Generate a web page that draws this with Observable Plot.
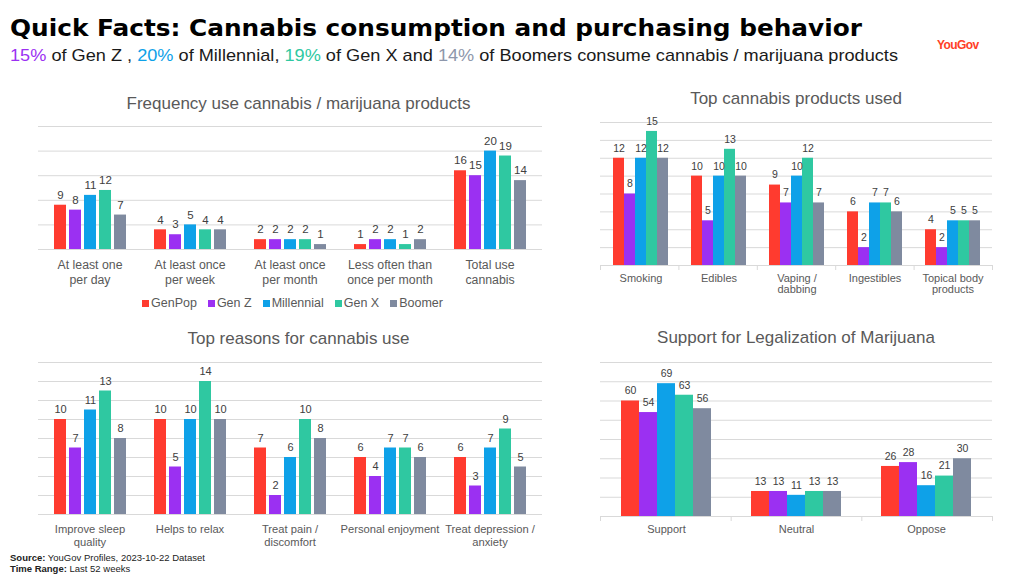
<!DOCTYPE html>
<html>
<head>
<meta charset="utf-8">
<script src="https://cdn.jsdelivr.net/npm/d3@7"></script>
<script src="https://cdn.jsdelivr.net/npm/@observablehq/plot@0.6"></script>
<style>
  html, body { margin: 0; padding: 0; background: #fff; }
  body { width: 1024px; height: 576px; position: relative; overflow: hidden; font-family: "Liberation Sans", Arial, sans-serif; }
  .abs { position: absolute; }
  .ctitle { position: absolute; font-size: 17px; color: #595959; text-align: center; line-height: 20px; white-space: nowrap; }
  .chart { position: absolute; }
  .chart svg { position: absolute; left: 0; top: 0; overflow: visible; max-width: none !important; }
  .fit { display: inline-block; transform-origin: 0 0; }
</style>
</head>
<body>
<div class="abs" style="left:10px; top:14px; font-family:'DejaVu Sans', sans-serif; font-size:23.5px; font-weight:bold; color:#000; line-height:28px; white-space:nowrap;"><span id="title" class="fit" data-w="852">Quick Facts: Cannabis consumption and purchasing behavior</span></div>
<div class="abs" style="left:10px; top:46px; font-size:17px; color:#1a1a1a; line-height:20px; white-space:nowrap;"><span id="subtitle" class="fit" data-w="888"></span></div>
<div class="abs" style="left:937px; top:38px; font-size:12px; font-weight:bold; color:#ff4026; letter-spacing:-0.6px; line-height:14px;">YouGov</div>

<div class="ctitle" style="left:0px; width:597px; top:94px;">Frequency use cannabis / marijuana products</div>
<div class="ctitle" style="left:596px; width:400px; top:89px;">Top cannabis products used</div>
<div class="ctitle" style="left:0px; width:597px; top:329px;">Top reasons for cannabis use</div>
<div class="ctitle" style="left:596px; width:400px; top:328px;">Support for Legalization of Marijuana</div>

<div id="legend" class="abs" style="left:0px; width:585px; top:295px; text-align:center; font-size:12.5px; color:#595959; line-height:16px; white-space:nowrap;"></div>

<div id="chartA" class="chart" style="left:0px; top:110px; width:560px; height:181px;"></div>
<div id="chartB" class="chart" style="left:580px; top:106px; width:430px; height:193px;"></div>
<div id="chartC" class="chart" style="left:0px; top:346px; width:560px; height:204px;"></div>
<div id="chartD" class="chart" style="left:580px; top:346px; width:430px; height:194px;"></div>

<div class="abs" style="left:10px; top:552px; font-size:9.5px; color:#222; line-height:11px; white-space:nowrap;">
  <div><b>Source:</b> YouGov Profiles, 2023-10-22 Dataset</div>
  <div><b>Time Range:</b> Last 52 weeks</div>
</div>

<script>
// ---- Data ----
const series = ["GenPop", "Gen Z", "Millennial", "Gen X", "Boomer"];
const seriesColors = ["#ff3b2f", "#9b30f2", "#0ea1e8", "#2fc8a1", "#7f8a9f"];

const subtitleShares = [15, 20, 19, 14]; // Gen Z, Millennial, Gen X, Boomers

const freqCategories = ["At least one\nper day", "At least once\nper week", "At least once\nper month", "Less often than\nonce per month", "Total use\ncannabis"];
const freqValues = [
  [9, 8, 11, 12, 7],
  [4, 3, 5, 4, 4],
  [2, 2, 2, 2, 1],
  [1, 2, 2, 1, 2],
  [16, 15, 20, 19, 14]
];
const freqTicks = [0, 5, 10, 15, 20, 25];

const productCategories = ["Smoking", "Edibles", "Vaping /\ndabbing", "Ingestibles", "Topical body\nproducts"];
const productValues = [
  [12, 8, 12, 15, 12],
  [10, 5, 10, 13, 10],
  [9, 7, 10, 12, 7],
  [6, 2, 7, 7, 6],
  [4, 2, 5, 5, 5]
];
const productTicks = [0, 2, 4, 6, 8, 10, 12, 14, 16];

const reasonCategories = ["Improve sleep\nquality", "Helps to relax", "Treat pain /\ndiscomfort", "Personal enjoyment", "Treat depression /\nanxiety"];
const reasonValues = [
  [10, 7, 11, 13, 8],
  [10, 5, 10, 14, 10],
  [7, 2, 6, 10, 8],
  [6, 4, 7, 7, 6],
  [6, 3, 7, 9, 5]
];
const reasonTicks = [0, 2, 4, 6, 8, 10, 12, 14, 16];

const legalCategories = ["Support", "Neutral", "Oppose"];
const legalValues = [
  [60, 54, 69, 63, 56],
  [13, 13, 11, 13, 13],
  [26, 28, 16, 21, 30]
];
const legalTicks = [0, 10, 20, 30, 40, 50, 60, 70, 80];

// ---- Header subtitle ----
(function () {
  const s = document.getElementById("subtitle");
  const parts = [
    [subtitleShares[0] + "%", seriesColors[1]], [" of Gen Z , ", null],
    [subtitleShares[1] + "%", seriesColors[2]], [" of Millennial, ", null],
    [subtitleShares[2] + "%", seriesColors[3]], [" of Gen X and ", null],
    [subtitleShares[3] + "%", "#8e97ab"], [" of Boomers consume cannabis / marijuana products", null]
  ];
  for (const [t, c] of parts) {
    const sp = document.createElement("span");
    sp.textContent = t;
    if (c) sp.style.color = c;
    s.appendChild(sp);
  }
  // stretch header texts to the reference widths
  document.querySelectorAll(".fit").forEach(el => {
    const w = el.getBoundingClientRect().width;
    const target = +el.dataset.w;
    if (w > 0) el.style.transform = `scaleX(${target / w})`;
  });
})();

// ---- Legend ----
(function () {
  const L = document.getElementById("legend");
  series.forEach((s, i) => {
    const item = document.createElement("span");
    item.style.marginRight = i < series.length - 1 ? "11px" : "0";
    const sw = document.createElement("span");
    sw.style.cssText = `display:inline-block;width:7px;height:7px;background:${seriesColors[i]};margin-right:2px;vertical-align:0px;`;
    item.appendChild(sw);
    item.appendChild(document.createTextNode(s));
    L.appendChild(item);
  });
})();

// ---- Chart builder ----
function groupedChart(id, o) {
  const el = document.getElementById(id);
  const rows = o.cats.flatMap((c, i) => series.map((s, j) => ({ category: c, series: s, value: o.values[i][j] })));
  const common = {
    width: o.width, height: o.height,
    marginTop: o.mt, marginBottom: o.mb, marginLeft: o.ml, marginRight: o.mr,
    y: { domain: [o.ticks[0], o.ticks[o.ticks.length - 1]], axis: null },
    style: { background: "transparent", fontFamily: "Liberation Sans, Arial, sans-serif" }
  };
  const bg = Plot.plot({
    ...common,
    x: { domain: [0, o.cats.length], axis: null },
    marks: [
      Plot.ruleY(o.ticks, { stroke: "#d9d9d9", strokeWidth: 1 }),
      o.boundaries ? Plot.ruleX(d3.range(o.cats.length + 1), { x: d => d, y1: 0, y2: 0, insetBottom: -5, stroke: "#d9d9d9" }) : null
    ]
  });
  const fg = Plot.plot({
    ...common,
    style: { ...common.style, fontSize: o.labelSize + "px", color: "#595959" },
    fx: { domain: o.cats, paddingInner: o.fxPadding, paddingOuter: o.fxPadding / 2, label: null },
    x: { domain: series, axis: null, paddingInner: o.xPadding, paddingOuter: 0 },
    color: { domain: series, range: seriesColors },
    marks: [
      Plot.barY(rows, { fx: "category", x: "series", y: "value", fill: "series" }),
      Plot.text(rows, { fx: "category", x: "series", y: "value", text: d => String(d.value), dy: -10, fill: "#404040", fontSize: o.valueSize }),
      Plot.axisFx({ anchor: "bottom", tickSize: 0, tickPadding: o.tickPadding, label: null, fontSize: o.labelSize, fill: "#595959", lineHeight: o.lineHeight })
    ]
  });
  el.appendChild(bg);
  el.appendChild(fg);
}

groupedChart("chartA", {
  cats: freqCategories, values: freqValues, ticks: freqTicks,
  width: 560, height: 181, mt: 16, mb: 42, ml: 38, mr: 18,
  fxPadding: 0.266, xPadding: 0.2, labelSize: 12.3, valueSize: 11.5, tickPadding: 9, lineHeight: 1.22, boundaries: false
});
groupedChart("chartB", {
  cats: productCategories, values: productValues, ticks: productTicks,
  width: 430, height: 193, mt: 16, mb: 34, ml: 20, mr: 18,
  fxPadding: 0.3, xPadding: 0, labelSize: 11, valueSize: 10.5, tickPadding: 8, lineHeight: 1.06, boundaries: true
});
groupedChart("chartC", {
  cats: reasonCategories, values: reasonValues, ticks: reasonTicks,
  width: 560, height: 204, mt: 16, mb: 36, ml: 38, mr: 18,
  fxPadding: 0.266, xPadding: 0.2, labelSize: 11.2, valueSize: 11, tickPadding: 9, lineHeight: 1.15, boundaries: false
});
groupedChart("chartD", {
  cats: legalCategories, values: legalValues, ticks: legalTicks,
  width: 430, height: 194, mt: 16, mb: 24, ml: 20, mr: 18,
  fxPadding: 0.31, xPadding: 0.02, labelSize: 11, valueSize: 10.5, tickPadding: 8, lineHeight: 1.1, boundaries: true
});
</script>
</body>
</html>
